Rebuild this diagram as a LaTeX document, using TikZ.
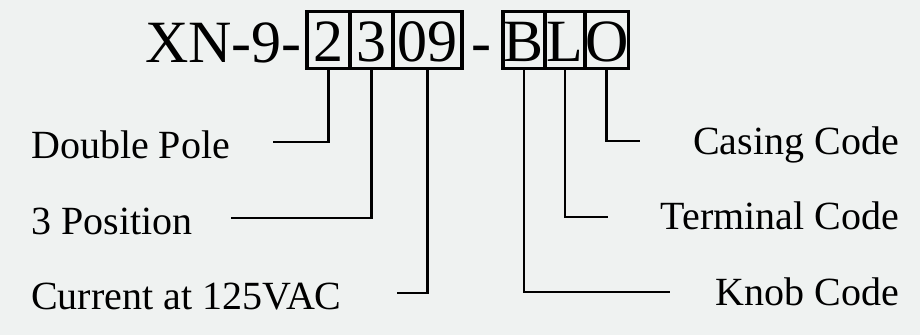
\documentclass[tikz,border=0pt]{standalone}
\usepackage{fontspec}
\setmainfont{Liberation Serif}
\usepackage{xcolor}
\usetikzlibrary{positioning}
\definecolor{paper}{RGB}{239,242,241}

\begin{document}
\begin{tikzpicture}[
  x=1pt, y=-1pt,
  node distance=0pt,
  code/.style={draw, line width=3.2pt, inner sep=0pt, outer sep=0pt, minimum height=57pt, text height=43pt, text depth=0pt, font=\fontsize{60}{60}\selectfont},
  label/.style={inner sep=0pt, font=\fontsize{40}{40}\selectfont},
  link/.style={line width=2.8pt}
]
\useasboundingbox[fill=paper] (0,0) rectangle (920,335);

% part number
\node[anchor=base east, inner sep=0pt, font=\fontsize{60}{60}\selectfont] (head) at (302,62) {XN-9-};
\node[code, minimum width=43pt] (pole) at (328.5,40) {2};
\node[code, minimum width=43pt, right=of pole] (pos) {3};
\node[code, minimum width=69pt, right=of pos] (amp) {09};
\node[anchor=base, inner sep=0pt, font=\fontsize{60}{60}\selectfont] (dash) at (481,62) {-};
\node[code, minimum width=42pt] (knob) at (524,40) {B};
\node[code, minimum width=40pt, right=of knob] (term) {L};
\node[code, minimum width=43pt, right=of term] (case) {O};

% left labels
\node[label, anchor=base west] (polel) at (31,158) {Double Pole};
\node[label, anchor=base west] (posl) at (31,234) {3 Position};
\node[label, anchor=base west] (ampl) at (31,309) {Current at 125VAC};

% right labels
\node[label, anchor=base east] (casel) at (899,154) {Casing Code};
\node[label, anchor=base east] (terml) at (899,229) {Terminal Code};
\node[label, anchor=base east] (knobl) at (899,305) {Knob Code};

% line ends
\coordinate (polee) at (273,142);
\coordinate (pose) at (231,218);
\coordinate (ampe) at (397,293);
\coordinate (casee) at (640,141);
\coordinate (terme) at (608,217);
\coordinate (knobe) at (670,292);

\foreach \a/\b in {pole/polee,pos/pose,amp/ampe,case/casee,term/terme,knob/knobe}
  \draw[link] (\a.south) |- (\b);
\end{tikzpicture}
\end{document}
